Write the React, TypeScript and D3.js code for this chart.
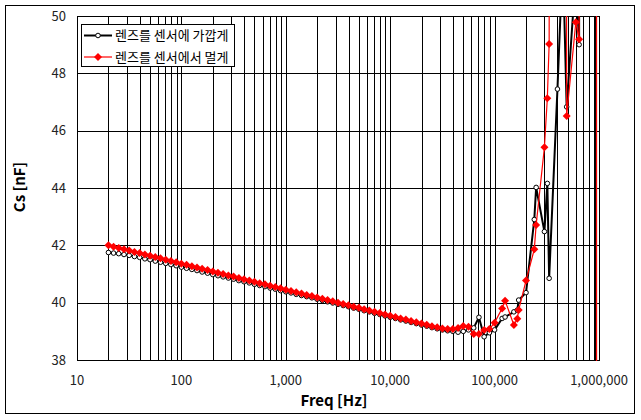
import React from 'react';
import * as d3 from 'd3';

// Frequency sweep points [Hz]
const freqHz = [
  20, 22.4, 25.1, 28.2, 31.6, 35.5, 39.8, 44.7, 50.1, 56.2, 63.1, 70.8, 79.4, 89.1,
  100, 112, 126, 141, 158, 178, 200, 224, 251, 282, 316, 355, 398, 447, 501, 562, 631, 708, 794, 891,
  1000, 1122, 1259, 1413, 1585, 1778, 1995, 2239, 2512, 2818, 3162, 3548, 3981, 4467, 5012, 5623, 6310, 7079, 7943, 8913,
  10000, 11220, 12590, 14130, 15850, 17780, 19950, 22390, 25120, 28180, 31620, 35480, 39810, 44670, 50120, 56230, 63100, 70790, 79430, 89130,
  100000, 118000, 126000, 153000, 165000, 170000, 200000, 240000, 250000, 300000, 320000, 333000,
  400000, 450000, 490000, 600000, 645000, 700000, 800000, 900000, 1000000,
];

// Cs [nF] — lens close to sensor
const nearCs = [
  41.75, 41.73, 41.71, 41.68, 41.65, 41.61, 41.58, 41.53, 41.50, 41.45, 41.41, 41.37, 41.33, 41.29,
  41.24, 41.20, 41.16, 41.12, 41.07, 41.03, 40.98, 40.94, 40.90, 40.86, 40.82, 40.77, 40.73, 40.69, 40.64, 40.60, 40.56, 40.51, 40.47, 40.42,
  40.38, 40.34, 40.29, 40.25, 40.21, 40.17, 40.12, 40.08, 40.03, 39.99, 39.94, 39.90, 39.86, 39.81, 39.77, 39.72, 39.68, 39.63, 39.59, 39.54,
  39.49, 39.45, 39.40, 39.36, 39.31, 39.27, 39.22, 39.18, 39.13, 39.09, 39.05, 39.02, 39.00, 38.97, 39.00, 39.05, 39.12, 39.49, 38.81, 38.95,
  39.05, 39.45, 39.50, 39.68, 39.74, 40.09, 40.35, 42.90, 44.02, 42.48, 44.16, 40.85,
  47.45, 52.1, 46.83, 51.5, 49.0, 1500, 1500, 1500, -2500,
];

// Cs [nF] — lens far from sensor
const farCs = [
  42.00, 41.95, 41.91, 41.86, 41.82, 41.77, 41.73, 41.68, 41.64, 41.59, 41.55, 41.50, 41.45, 41.41,
  41.36, 41.32, 41.27, 41.23, 41.18, 41.14, 41.09, 41.04, 41.00, 40.95, 40.91, 40.86, 40.82, 40.77, 40.73, 40.68, 40.64, 40.59, 40.55, 40.50,
  40.45, 40.41, 40.36, 40.32, 40.27, 40.23, 40.18, 40.14, 40.09, 40.05, 40.00, 39.95, 39.91, 39.86, 39.82, 39.77, 39.73, 39.68, 39.64, 39.59,
  39.54, 39.50, 39.45, 39.41, 39.36, 39.32, 39.27, 39.23, 39.18, 39.14, 39.10, 39.08, 39.08, 39.12, 39.19, 39.16, 38.91, 38.91, 39.05, 39.08,
  39.30, 39.80, 40.07, 39.22, 39.44, 39.74, 40.77, 41.86, 42.71, 45.42, 47.13, 49.02,
  300, 300, 46.51, 49.78, 49.19, 2000, 2000, 2000, -2000,
];

const seriesNames = ['렌즈를 센서에 가깝게', '렌즈를 센서에서 멀게'];
const yTicks = [38, 40, 42, 44, 46, 48, 50];
const xTicks = [10, 100, 1000, 10000, 100000, 1000000];
const xTitle = 'Freq [Hz]';
const yTitle = 'Cs [nF]';

const FONT = '"Noto Sans CJK KR", "DejaVu Sans", sans-serif';

export default function App() {
  const W = 641, H = 420;
  const L = 77, R = 599, T = 16, B = 360;
  const x = d3.scaleLog().domain([10, 1e6]).range([L, R]);
  const y = d3.scaleLinear().domain([38, 50]).range([B, T]);
  const px = (v: number) => Math.round(v) + 0.5;

  const gridX = x.ticks();
  const line = (vals: number[]) =>
    d3.line<number>()
      .x((_, i) => x(freqHz[i]))
      .y((d) => y(d))(vals) || '';

  const diamond = 'M0,-4L4,0L0,4L-4,0Z';
  const inside = (f: number, v: number) => v >= 37.9 && v <= 50.1;

  return (
    <svg width={W} height={H} style={{ position: 'absolute', left: 0, top: 0, background: '#fff' }}
      fontFamily={FONT}>
      <defs>
        <clipPath id="plotClip">
          <rect x={L} y={T} width={R - L + 1} height={B - T + 1} />
        </clipPath>
      </defs>
      <rect x={0} y={0} width={W} height={H} fill="#fff" />
      <rect x={5.5} y={5.5} width={629} height={408} fill="#fff" stroke="#000" strokeWidth={1} />

      {/* grid */}
      <g stroke="#000" strokeWidth={1} shapeRendering="crispEdges">
        {gridX.map((t) => (
          <line key={'gx' + t} x1={px(x(t))} x2={px(x(t))} y1={px(T)} y2={px(B)} />
        ))}
        {yTicks.map((t) => (
          <line key={'gy' + t} x1={px(L)} x2={px(R)} y1={px(y(t))} y2={px(y(t))} />
        ))}
        <rect x={px(L)} y={px(T)} width={px(R) - px(L)} height={px(B) - px(T)} fill="none" />
      </g>

      {/* series */}
      <g clipPath="url(#plotClip)">
        <path d={line(nearCs)} fill="none" stroke="#000" strokeWidth={2} strokeLinejoin="round" />
        {nearCs.map((v, i) =>
          inside(freqHz[i], v) ? (
            <circle key={'n' + i} cx={x(freqHz[i])} cy={y(v)} r={2.3} fill="#fff" stroke="#000" strokeWidth={1} />
          ) : null
        )}
        <path d={line(farCs)} fill="none" stroke="#ff0000" strokeWidth={1.2} strokeLinejoin="round" />
        {farCs.map((v, i) =>
          inside(freqHz[i], v) ? (
            <path key={'f' + i} d={diamond} transform={`translate(${x(freqHz[i])},${y(v)})`} fill="#ff0000" />
          ) : null
        )}
      </g>

      {/* y tick labels */}
      <g fontSize={13} fill="#222" textAnchor="end">
        {yTicks.map((t) => (
          <text key={'yl' + t} x={66} y={y(t)} dy="0.36em">{t}</text>
        ))}
      </g>
      {/* x tick labels */}
      <g fontSize={13} fill="#222" textAnchor="middle">
        {xTicks.map((t) => (
          <text key={'xl' + t} x={x(t)} y={385}>{d3.format(',')(t)}</text>
        ))}
      </g>

      {/* axis titles */}
      <text x={334} y={406} textAnchor="middle" fontSize={15} fontWeight="bold" fill="#000">{xTitle}</text>
      <text transform="translate(25,187) rotate(-90)" textAnchor="middle" fontSize={15} fontWeight="bold" fill="#000">{yTitle}</text>

      {/* legend */}
      <g>
        <rect x={81.5} y={24.5} width={153} height={42} fill="#fff" stroke="#000" strokeWidth={1} />
        <line x1={84} x2={112} y1={35.5} y2={35.5} stroke="#000" strokeWidth={2} />
        <circle cx={98} cy={35.5} r={2.3} fill="#fff" stroke="#000" strokeWidth={1} />
        <text x={115} y={35.5} dy="0.36em" fontSize={13} fill="#000">{seriesNames[0]}</text>
        <line x1={84} x2={112} y1={57} y2={57} stroke="#ff0000" strokeWidth={1.2} />
        <path d={diamond} transform="translate(98,57)" fill="#ff0000" />
        <text x={115} y={57} dy="0.36em" fontSize={13} fill="#000">{seriesNames[1]}</text>
      </g>
    </svg>
  );
}
